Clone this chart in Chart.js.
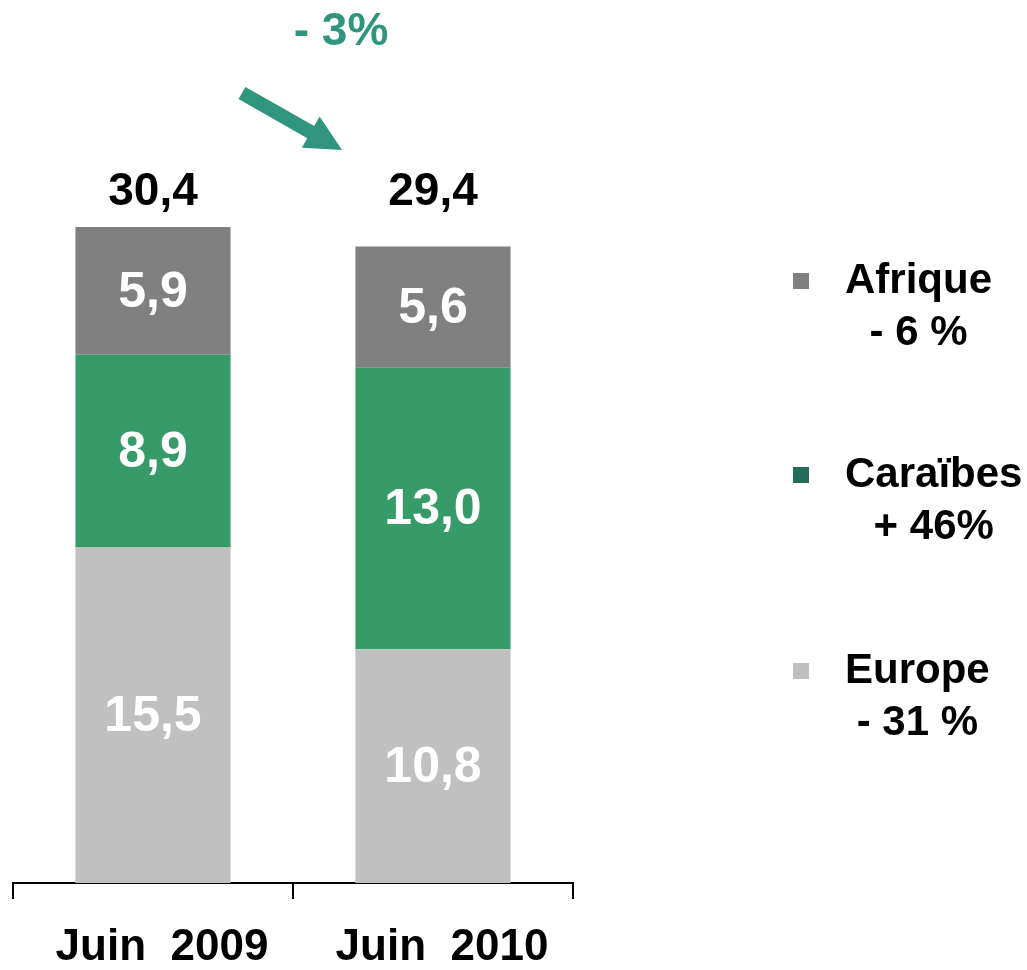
<!DOCTYPE html>
<html>
<head>
<meta charset="utf-8">
<script src="https://cdn.jsdelivr.net/npm/chart.js@4/dist/chart.umd.min.js"></script>
<style>
  html, body { margin: 0; padding: 0; background: #fff; }
  #wrap { width: 1027px; height: 970px; position: relative; }
</style>
</head>
<body>
<div id="wrap"><canvas id="c" width="1027" height="970"></canvas></div>
<script>
const categories = ["Juin  2009", "Juin  2010"];
const seriesNames = ["Europe", "Caraïbes", "Afrique"];
const europe = [15.5, 10.8];
const caraibes = [8.9, 13.0];
const afrique = [5.9, 5.6];
const totals = [30.4, 29.4];
const legendChanges = ["- 31 %", "+ 46%", "- 6 %"];
const overallChange = "- 3%";

const barColors = ["#c0c0c0", "#369b68", "#808080"];
const legendColors = ["#c0c0c0", "#246b5a", "#808080"];
const FONT = "'Liberation Sans', Arial, sans-serif";

function fmt(v) { return v.toFixed(1).replace('.', ','); }

const overlay = {
  id: 'overlay',
  afterDatasetsDraw(chart) {
    const ctx = chart.ctx;
    const xs = chart.scales.x, ys = chart.scales.y;
    ctx.save();
    ctx.textAlign = 'center';
    ctx.textBaseline = 'middle';
    // segment labels
    ctx.fillStyle = '#ffffff';
    ctx.font = "bold 50px " + FONT;
    chart.data.datasets.forEach((ds, di) => {
      const meta = chart.getDatasetMeta(di);
      meta.data.forEach((bar, i) => {
        const yc = (bar.y + bar.base) / 2;
        ctx.fillText(fmt(ds.data[i]), bar.x, yc + 2);
      });
    });
    // totals
    ctx.fillStyle = '#000000';
    ctx.font = "bold 46px " + FONT;
    const maxTot = Math.max(...totals);
    const ty = ys.getPixelForValue(maxTot) - 33;
    totals.forEach((t, i) => {
      ctx.fillText(fmt(t), xs.getPixelForValue(i), ty);
    });
    // overall change text and arrow
    const x0 = xs.getPixelForValue(0), x1 = xs.getPixelForValue(1);
    ctx.fillStyle = '#2f967d';
    ctx.font = "bold 46px " + FONT;
    ctx.fillText(overallChange, (x0 + x1) / 2 + 48, 32);
    // arrow
    const ax0 = 242, ay0 = 93, ax1 = 342, ay1 = 150;
    const ang = Math.atan2(ay1 - ay0, ax1 - ax0);
    const headLen = 36, headW = 18, shaftW = 7;
    const bx = ax1 - headLen * Math.cos(ang), by = ay1 - headLen * Math.sin(ang);
    const nx = -Math.sin(ang), ny = Math.cos(ang);
    ctx.beginPath();
    ctx.moveTo(ax0 + nx * shaftW, ay0 + ny * shaftW);
    ctx.lineTo(bx + nx * shaftW, by + ny * shaftW);
    ctx.lineTo(bx + nx * headW, by + ny * headW);
    ctx.lineTo(ax1, ay1);
    ctx.lineTo(bx - nx * headW, by - ny * headW);
    ctx.lineTo(bx - nx * shaftW, by - ny * shaftW);
    ctx.lineTo(ax0 - nx * shaftW, ay0 - ny * shaftW);
    ctx.closePath();
    ctx.fill();
    // legend
    const legendYs = [671, 475, 281];
    const lx = 845;
    seriesNames.forEach((name, i) => {
      const y = legendYs[i];
      ctx.fillStyle = legendColors[i];
      ctx.fillRect(793, y - 8, 16, 16);
      ctx.fillStyle = '#000000';
      ctx.font = "bold 42px " + FONT;
      ctx.textAlign = 'left';
      ctx.fillText(name, lx, y);
      const w = ctx.measureText(name).width;
      ctx.textAlign = 'center';
      ctx.fillText(legendChanges[i], lx + w / 2, y + 52);
    });
    ctx.restore();
  }
};

new Chart(document.getElementById('c'), {
  type: 'bar',
  data: {
    labels: categories,
    datasets: [
      { label: seriesNames[0], data: europe, backgroundColor: barColors[0] },
      { label: seriesNames[1], data: caraibes, backgroundColor: barColors[1] },
      { label: seriesNames[2], data: afrique, backgroundColor: barColors[2] }
    ]
  },
  options: {
    responsive: false,
    animation: false,
    devicePixelRatio: 1,
    layout: { padding: { left: 13, right: 454, top: 17, bottom: 0 } },
    plugins: { legend: { display: false }, tooltip: { enabled: false } },
    datasets: { bar: { categoryPercentage: 1, barPercentage: 0.554, borderWidth: 0 } },
    scales: {
      x: {
        stacked: true,
        offset: true,
        border: { display: true, color: '#000', width: 2 },
        grid: { offset: true, drawOnChartArea: false, drawTicks: true, tickLength: 16, color: '#000', lineWidth: 2 },
        ticks: { color: '#000', font: { family: FONT, size: 44, weight: 'bold', lineHeight: 1 }, padding: 27, labelOffset: 9, maxRotation: 0 },
        afterFit(scale) { scale.height = 87; }
      },
      y: {
        stacked: true,
        display: false,
        min: 0,
        max: 40
      }
    }
  },
  plugins: [overlay]
});
</script>
</body>
</html>
